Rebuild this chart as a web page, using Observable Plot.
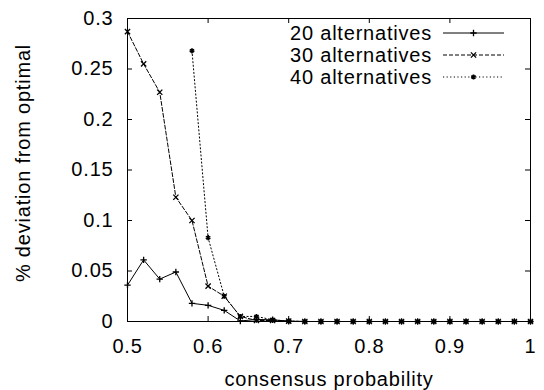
<!DOCTYPE html>
<html><head><meta charset="utf-8">
<script src="https://cdn.jsdelivr.net/npm/d3@7"></script>
<script src="https://cdn.jsdelivr.net/npm/@observablehq/plot@0.6"></script>
<style>
html,body{margin:0;padding:0;background:#fff;}
#chart svg text{letter-spacing:0.8px;}
</style></head><body><div id="chart"></div>
<script>
const probability = [0.50,0.52,0.54,0.56,0.58,0.60,0.62,0.64,0.66,0.68,0.70,0.72,0.74,0.76,0.78,0.80,0.82,0.84,0.86,0.88,0.90,0.92,0.94,0.96,0.98,1.00];
const alt20 = [0.036,0.061,0.042,0.049,0.018,0.016,0.011,0.0005,0.002,0.0017,0.0003,0,0,0,0,0,0,0,0,0,0,0,0,0,0,0];
const alt30 = [0.287,0.255,0.227,0.123,0.100,0.035,0.025,0.005,0.001,0.001,0.0003,0,0,0,0,0,0,0,0,0,0,0,0,0,0,0];
const alt40 = [null,null,null,null,0.268,0.083,0.025,0.005,0.005,0.0017,0.0003,0,0,0,0,0,0,0,0,0,0,0,0,0,0,0];
const seriesNames = ["20 alternatives","30 alternatives","40 alternatives"];
const xTicks = [0.5,0.6,0.7,0.8,0.9,1];
const xTickLabels = ["0.5","0.6","0.7","0.8","0.9","1"];
const yTicks = [0,0.05,0.1,0.15,0.2,0.25,0.3];
const yTickLabels = ["0","0.05","0.1","0.15","0.2","0.25","0.3"];
const xTitle = "consensus probability";
const yTitle = "% deviation from optimal";

const W = 544, H = 390, mL = 127, mR = 14, mT = 18, mB = 69;
const plotW = W - mL - mR, plotH = H - mT - mB;
const tickLen = 5;

const styles = [
  {symbol: "plus", dash: null, r: 2.2, sw: 1.3},
  {symbol: "times", dash: "4,2", r: 2.5, sw: 1.3},
  {symbol: "asterisk", dash: "1.2,2.4", r: 2.4, sw: 1.7}
];
const seriesVals = [alt20, alt30, alt40];
const seriesData = seriesVals.map((vals, k) =>
  probability.map((p, i) => ({p, v: vals[i], name: seriesNames[k]})).filter(d => d.v != null));

const marks = [
  Plot.frame({stroke: "black", strokeWidth: 1}),
  Plot.tickX(xTicks, {x: d => d, insetTop: plotH - tickLen, stroke: "black"}),
  Plot.tickX(xTicks, {x: d => d, insetBottom: plotH - tickLen, stroke: "black"}),
  Plot.tickY(yTicks, {y: d => d, insetRight: plotW - tickLen, stroke: "black"}),
  Plot.tickY(yTicks, {y: d => d, insetLeft: plotW - tickLen, stroke: "black"}),
  Plot.axisX(xTicks, {tickSize: 0, tickPadding: 17, label: null, tickFormat: d => xTickLabels[xTicks.indexOf(d)]}),
  Plot.axisY(yTicks, {tickSize: 0, tickPadding: 14, label: null, tickFormat: d => yTickLabels[yTicks.indexOf(d)]}),
  Plot.text([xTitle], {frameAnchor: "bottom", dy: 58, lineAnchor: "middle", textAnchor: "middle", text: d => d}),
  Plot.text([yTitle], {frameAnchor: "left", rotate: -90, dx: -104, dy: -7, lineAnchor: "middle", textAnchor: "middle", text: d => d})
];
seriesData.forEach((d, k) => {
  marks.push(Plot.line(d, {x: "p", y: "v", stroke: "black", strokeWidth: 1, strokeDasharray: styles[k].dash}));
  marks.push(Plot.dot(d, {x: "p", y: "v", symbol: styles[k].symbol, r: styles[k].r, stroke: "black", strokeWidth: styles[k].sw}));
});

const chart = Plot.plot({
  width: W, height: H,
  marginLeft: mL, marginRight: mR, marginTop: mT, marginBottom: mB,
  style: {fontSize: "20px", fontFamily: "'Liberation Sans', Arial, Helvetica, sans-serif", color: "black", background: "white"},
  x: {domain: [0.5, 1], label: null},
  y: {domain: [0, 0.3], label: null},
  marks
});
document.getElementById("chart").appendChild(chart);

// legend (key) in the top-right of the frame, gnuplot style
const svg = d3.select(chart);
const g = svg.append("g").attr("class", "key");
const keyRight = W - mR - 26, sampleLen = 61, textX = mL + 163;
const symbolTypes = {plus: d3.symbolPlus, times: d3.symbolTimes, asterisk: d3.symbolAsterisk};
seriesNames.forEach((name, k) => {
  const y = mT + 15 + k * 22;
  g.append("text").attr("x", textX).attr("y", y).attr("dy", "0.35em")
    .attr("text-anchor", "start").attr("fill", "black").text(name);
  g.append("line").attr("x1", keyRight - sampleLen).attr("x2", keyRight).attr("y1", y).attr("y2", y)
    .attr("stroke", "black").attr("stroke-width", 1).attr("stroke-dasharray", styles[k].dash);
  const sym = d3.symbol(symbolTypes[styles[k].symbol], Math.PI * styles[k].r * styles[k].r);
  g.append("path").attr("d", sym()).attr("transform", `translate(${keyRight - sampleLen / 2},${y})`)
    .attr("fill", "none").attr("stroke", "black").attr("stroke-width", styles[k].sw);
});
</script></body></html>
